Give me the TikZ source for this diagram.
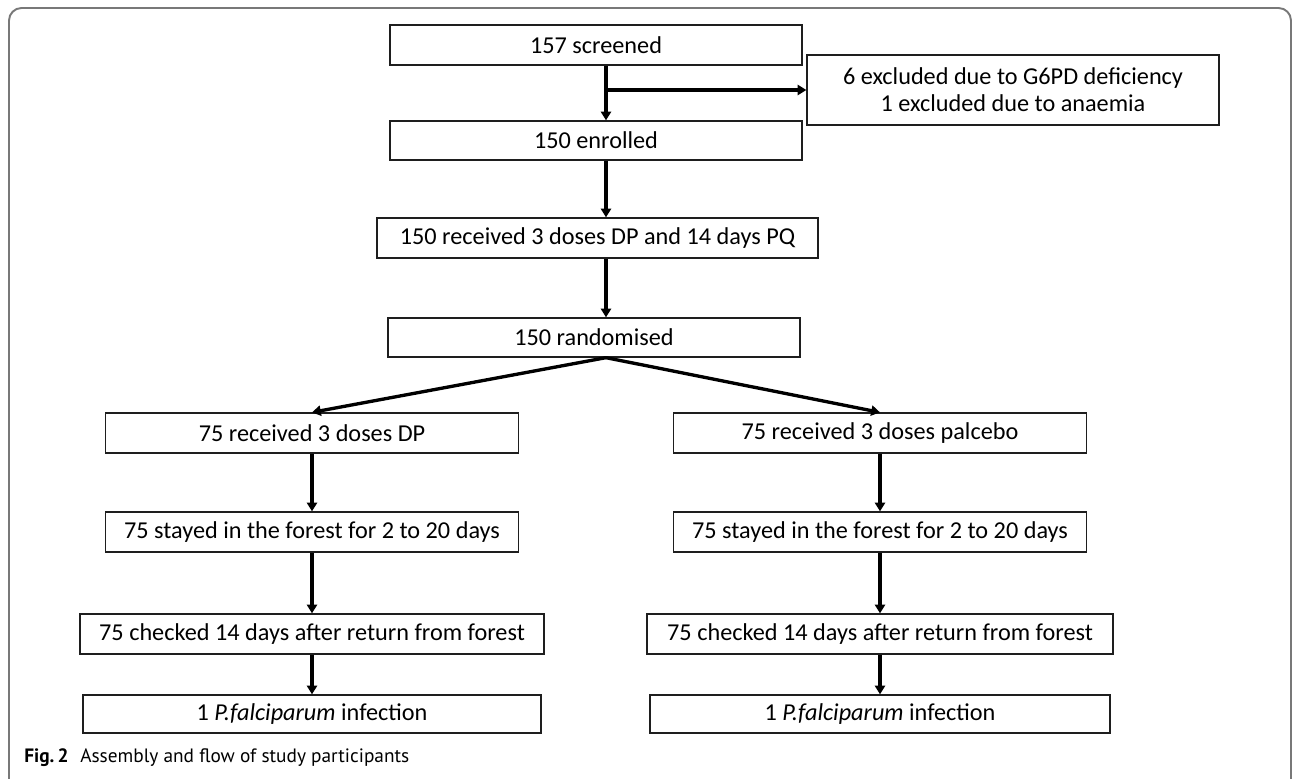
\documentclass[tikz,border=0pt]{standalone}
\usepackage{fontspec}
\setmainfont{Carlito}
\newfontfamily\capfont{PT Sans}
\usepackage{tikz}
\usetikzlibrary{arrows.meta,positioning}
\definecolor{FlowLine}{RGB}{30,30,30}
\definecolor{FrameGray}{RGB}{120,120,120}

\begin{document}
\begin{tikzpicture}[
    x=0.02cm, y=-0.02cm,
    stage/.style={draw=FlowLine, line width=0.75pt, minimum height=0.8cm, inner sep=0pt, align=center, font=\fontsize{13.8}{15.5}\selectfont},
    flow/.style={line width=1.9pt, -{Triangle[length=5pt,width=5.8pt]}}
]
    \useasboundingbox (0,0) rectangle (1292,778);
    \draw[FrameGray, line width=1.1pt, rounded corners=0.25cm] (9,8) rectangle (1291,792);

    \coordinate (trunk) at (606,0);
    \node[stage, minimum width=8.24cm] (scr) at (596,45) {157 screened};
    \node[stage, minimum width=8.24cm, minimum height=1.4cm] (exc) at (1013,90) {6 excluded due to G6PD deficiency\\1 excluded due to anaemia};
    \node[stage, minimum width=8.24cm, minimum height=0.78cm] (enr) at (596,140.5) {150 enrolled};
    \node[stage, minimum width=8.82cm] (trt) at (597.5,238) {150 received 3 doses DP and 14 days PQ};
    \node[stage, minimum width=8.24cm, minimum height=0.78cm] (rnd) at (594,337.5) {150 randomised};

    \node[stage, minimum width=8.26cm] (lrec) at (312,433) {75 received 3 doses DP};
    \node[stage, minimum width=8.26cm] (lstay) at (312,532) {75 stayed in the forest for 2 to 20 days};
    \node[stage, minimum width=9.28cm] (lchk) at (312,634) {75 checked 14 days after return from forest};
    \node[stage, minimum width=9.16cm, minimum height=0.76cm] (linf) at (312,714) {1 \textit{P.falciparum} infection};

    \node[stage, minimum width=8.26cm] (rrec) at (880,433) {75 received 3 doses palcebo};
    \node[stage, minimum width=8.26cm] (rstay) at (880,532) {75 stayed in the forest for 2 to 20 days};
    \node[stage, minimum width=9.32cm] (rchk) at (880,634) {75 checked 14 days after return from forest};
    \node[stage, minimum width=9.2cm, minimum height=0.76cm] (rinf) at (880,714) {1 \textit{P.falciparum} infection};

    \node[anchor=west, inner sep=0pt, font=\capfont\fontsize{11}{13}\selectfont] (cap) at (24,758) {\textbf{Fig.\,2}\hspace{0.6em}Assembly and flow of study participants};

    \draw[flow] (scr.south -| trunk) -- (enr.north -| trunk);
    \draw[flow] (trunk |- exc.west) -- (exc.west);
    \draw[flow] (enr.south -| trunk) -- (trt.north -| trunk);
    \draw[flow] (trt.south -| trunk) -- (rnd.north -| trunk);
    \draw[flow] (rnd.south -| trunk) -- (lrec.north);
    \draw[flow] (rnd.south -| trunk) -- (rrec.north);

    \draw[flow] (lrec) -- (lstay);
    \draw[flow] (lstay) -- (lchk);
    \draw[flow] (lchk) -- (linf);
    \draw[flow] (rrec) -- (rstay);
    \draw[flow] (rstay) -- (rchk);
    \draw[flow] (rchk) -- (rinf);
\end{tikzpicture}
\end{document}
